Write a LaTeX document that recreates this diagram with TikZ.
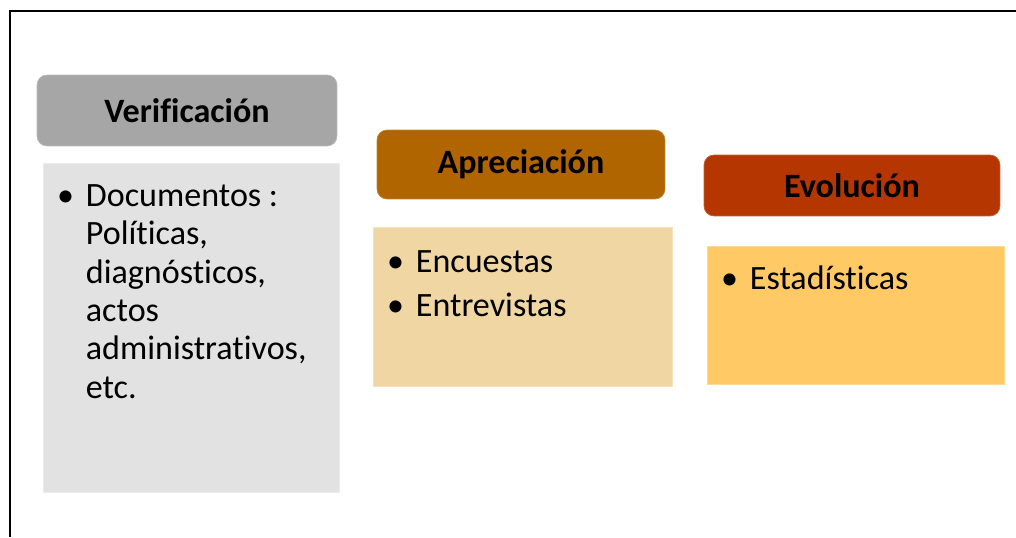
\documentclass[tikz,border=0pt]{standalone}
\usepackage{fontspec}
\setmainfont{Carlito}[Ligatures=NoCommon]
\definecolor{vergray}{RGB}{166,166,166}
\definecolor{verlight}{RGB}{226,226,226}
\definecolor{aprbrown}{RGB}{176,101,0}
\definecolor{aprlight}{RGB}{240,214,162}
\definecolor{evored}{RGB}{181,54,0}
\definecolor{evolight}{RGB}{255,201,101}
\newcommand{\bitem}{\par\noindent\hangindent=24.4pt\hangafter=1\makebox[24.4pt][l]{\hspace{8pt}\textbullet}}
\newcommand{\itembox}[1]{\parbox[t]{5.6cm}{\raggedright\setlength{\parskip}{3.2pt}#1}}

\begin{document}
\begin{tikzpicture}[x=0.02cm, y=-0.02cm,
    head/.style={draw=#1!80!white, fill=#1, rounded corners=0.2cm, inner sep=0pt,
        font=\fontsize{19.4pt}{21.8pt}\selectfont\bfseries},
    body/.style={draw=#1!70!white, fill=#1, inner sep=0pt},
    items/.style={anchor=base west, inner sep=0pt,
        font=\fontsize{19.4pt}{21.8pt}\selectfont}]
    \useasboundingbox (0,0) rectangle (1016,537);

    % frame
    \coordinate (frame) at (10,11);
    \draw[line width=1.3pt] (10,537) -- (frame) -- (1016,11);

    % headers
    \node[head=vergray, minimum width=6cm, minimum height=1.42cm]
        (verhead) at (187,110.5) {Verificación};
    \node[head=aprbrown, minimum width=5.76cm, minimum height=1.38cm]
        (aprhead) at (521,164.5) {Apreciación};
    \node[head=evored, minimum width=5.92cm, minimum height=1.22cm]
        (evohead) at (852,185.5) {Evolución};

    % bodies
    \node[body=verlight, minimum width=5.92cm, minimum height=6.58cm]
        (verbody) at (191,327.5) {};
    \node[body=aprlight, minimum width=5.98cm, minimum height=3.18cm]
        (aprbody) at (522.5,306.5) {};
    \node[body=evolight, minimum width=5.94cm, minimum height=2.76cm]
        (evobody) at (855.5,315) {};

    % bullet lists
    \node[items] (veritems) at ([shift={(0,44)}]verbody.north west)
        {\itembox{\bitem Documentos :\newline Políticas,\newline diagnósticos,\newline
            actos\newline administrativos,\newline etc.}};
    \node[items] (apritems) at ([shift={(0,46)}]aprbody.north west)
        {\itembox{\bitem Encuestas\bitem Entrevistas}};
    \node[items] (evoitems) at ([shift={(0,44)}]evobody.north west)
        {\itembox{\bitem Estadísticas}};
\end{tikzpicture}
\end{document}
